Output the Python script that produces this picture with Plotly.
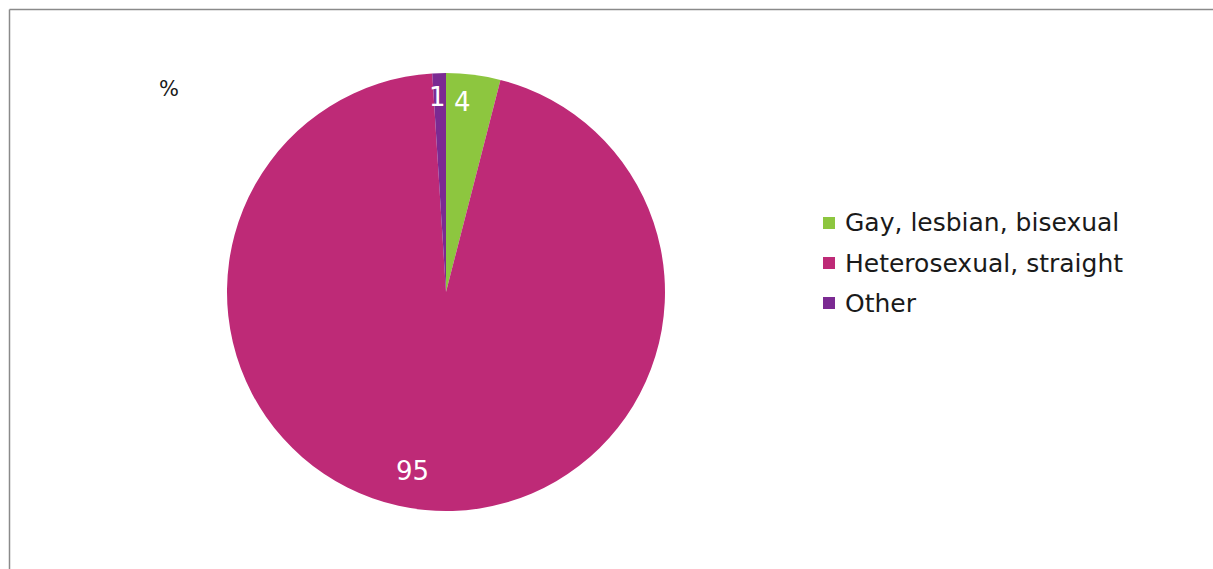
import math
import plotly.graph_objects as go

# Sexual orientation breakdown (%)
categories = ["Gay, lesbian, bisexual", "Heterosexual, straight", "Other"]
values = [4, 95, 1]
colors = ["#8DC63F", "#BE2A77", "#7B2A92"]

W, H = 1213, 569
CX, CY, R = 446, 292, 219  # pie centre and radius in px

# label placement: radial fraction and small pixel nudges per slice
label_radius = [0.875, 0.82, 0.89]
label_nudge = [(-8, 0), (-17, 0), (-2, 0)]

fig = go.Figure()
fig.add_trace(go.Pie(
    labels=categories,
    values=values,
    marker=dict(colors=colors, line=dict(width=0)),
    sort=False,
    direction="clockwise",
    rotation=0,
    textinfo="none",
    hoverinfo="label+value",
    showlegend=False,
    domain=dict(x=[(CX - R) / W, (CX + R) / W],
                y=[1 - (CY + R) / H, 1 - (CY - R) / H]),
))

annotations = []
total = sum(values)
cum = 0
for v, rf, (nx, ny) in zip(values, label_radius, label_nudge):
    mid = (cum + v / 2) / total * 2 * math.pi
    cum += v
    px = CX + rf * R * math.sin(mid)
    py = CY - rf * R * math.cos(mid)
    annotations.append(dict(
        x=px / W, y=1 - py / H, xref="paper", yref="paper",
        text=str(v), showarrow=False, xshift=nx, yshift=-ny,
        font=dict(family="DejaVu Sans", size=26, color="white"),
        xanchor="center", yanchor="middle",
    ))

# "%" unit label
annotations.append(dict(
    x=169 / W, y=1 - 89 / H, xref="paper", yref="paper", text="%",
    showarrow=False, font=dict(family="DejaVu Sans", size=21, color="#1a1a1a"),
    xanchor="center", yanchor="middle",
))

# legend: coloured squares plus labels
shapes = []
LX, LY0, LDY, SQ = 829, 223, 40, 12
for i, (cat, col) in enumerate(zip(categories, colors)):
    y = LY0 + i * LDY
    shapes.append(dict(
        type="rect", xref="paper", yref="paper",
        x0=(LX - SQ / 2) / W, x1=(LX + SQ / 2) / W,
        y0=1 - (y + SQ / 2) / H, y1=1 - (y - SQ / 2) / H,
        fillcolor=col, line=dict(width=0),
    ))
    annotations.append(dict(
        x=(LX + 14) / W, y=1 - y / H, xref="paper", yref="paper",
        text=cat, showarrow=False, xanchor="left", yanchor="middle",
        font=dict(family="DejaVu Sans", size=25, color="#1a1a1a"),
    ))

# chart area frame (left and top edges)
shapes.append(dict(type="line", xref="paper", yref="paper",
                   x0=9.5 / W, x1=9.5 / W, y0=0, y1=1 - 9.5 / H,
                   line=dict(color="#8a8a8a", width=1.5)))
shapes.append(dict(type="line", xref="paper", yref="paper",
                   x0=9.5 / W, x1=1, y0=1 - 9.5 / H, y1=1 - 9.5 / H,
                   line=dict(color="#8a8a8a", width=1.5)))

fig.update_layout(
    width=W, height=H,
    margin=dict(l=0, r=0, t=0, b=0),
    paper_bgcolor="white", plot_bgcolor="white",
    annotations=annotations, shapes=shapes,
)

fig.write_html("out.html")
